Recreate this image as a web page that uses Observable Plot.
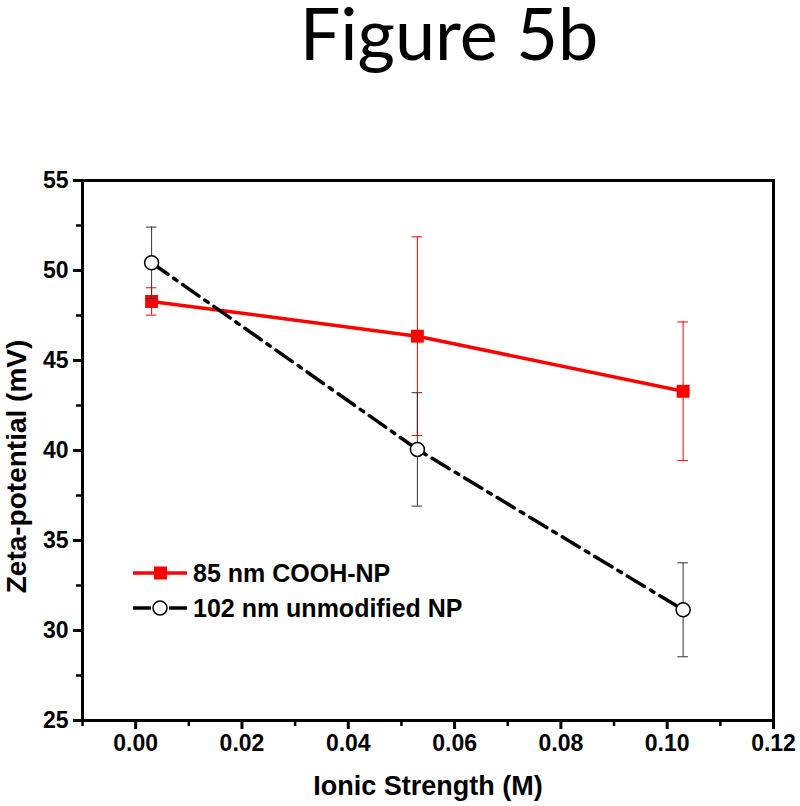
<!DOCTYPE html>
<html>
<head>
<meta charset="utf-8">
<script src="https://cdn.jsdelivr.net/npm/d3@7"></script>
<script src="https://cdn.jsdelivr.net/npm/@observablehq/plot@0.6"></script>
<style>
  html, body { margin: 0; padding: 0; background: #fff; }
  #wrap { position: relative; width: 800px; height: 806px; overflow: hidden; }
  #title { position: absolute; left: 449px; top: 0px; transform: translateX(-50%);
    font-family: Lato, "Open Sans", sans-serif; font-size: 72px; line-height: 64px; white-space: nowrap; color: #000; }
  #chart { position: absolute; left: 0; top: 100px; }
  .leg { position: absolute; left: 133px; display: flex; align-items: center; height: 30px;
    font-family: "Liberation Sans", Arial, sans-serif; font-weight: bold; font-size: 25px; color: #000; white-space: nowrap; }
  .leg svg { margin-right: 6px; }
  #chart g[aria-label$="tick label"] text { font-size: 23px; font-weight: bold; font-family: "Liberation Sans", Arial, sans-serif; }
</style>
</head>
<body>
<div id="wrap">
  <div id="title">Figure 5b</div>
  <div id="chart"></div>
  <div class="leg" style="top:558px">
    <svg width="54" height="20"><line x1="0" y1="10" x2="54" y2="10" stroke="#ff0000" stroke-width="3.5"/><rect x="21" y="3.5" width="13" height="13" fill="#ff0000"/></svg>
    <span>85 nm COOH-NP</span>
  </div>
  <div class="leg" style="top:593px">
    <svg width="54" height="20"><line x1="0" y1="10" x2="18" y2="10" stroke="#000" stroke-width="3.5"/><line x1="36" y1="10" x2="54" y2="10" stroke="#000" stroke-width="3.5"/><circle cx="27" cy="10" r="7" fill="#fff" stroke="#000" stroke-width="1.5"/></svg>
    <span>102 nm unmodified NP</span>
  </div>
</div>
<script>
// Data
const ionicStrength = [0.003, 0.053, 0.103];
const coohZeta = [48.28, 46.35, 43.29];
const coohErr = [0.76, 5.52, 3.85];
const unmodZeta = [50.43, 40.06, 31.15];
const unmodErr = [1.98, 3.15, 2.61];
const seriesNames = ["85 nm COOH-NP", "102 nm unmodified NP"];
const xTicks = [0.00, 0.02, 0.04, 0.06, 0.08, 0.10, 0.12];
const xMinorTicks = [-0.01, 0.01, 0.03, 0.05, 0.07, 0.09, 0.11];
const yTicks = [25, 30, 35, 40, 45, 50, 55];
const yMinorTicks = [27.5, 32.5, 37.5, 42.5, 47.5, 52.5];
const xLabel = "Ionic Strength (M)";
const yLabel = "Zeta-potential (mV)";

const cooh = ionicStrength.map((x, i) => ({x, y: coohZeta[i], lo: coohZeta[i] - coohErr[i], hi: coohZeta[i] + coohErr[i]}));
const unmod = ionicStrength.map((x, i) => ({x, y: unmodZeta[i], lo: unmodZeta[i] - unmodErr[i], hi: unmodZeta[i] + unmodErr[i]}));
const cap = 0.001;
const fam = "'Liberation Sans', Arial, sans-serif";

const chart = Plot.plot({
  width: 800,
  height: 706,
  marginLeft: 82,
  marginRight: 27,
  marginTop: 80,
  marginBottom: 86,
  style: {background: "#fff", color: "#000", overflow: "visible", fontFamily: fam, fontWeight: "bold", fontSize: "23px"},
  x: {domain: [-0.01, 0.12]},
  y: {domain: [25, 55]},
  marks: [
    // red series
    Plot.ruleX(cooh, {x: "x", y1: "lo", y2: "hi", stroke: "#ff0000", strokeWidth: 1}),
    Plot.ruleY(cooh, {y: "hi", x1: d => d.x - cap, x2: d => d.x + cap, stroke: "#ff0000", strokeWidth: 1}),
    Plot.ruleY(cooh, {y: "lo", x1: d => d.x - cap, x2: d => d.x + cap, stroke: "#ff0000", strokeWidth: 1}),
    Plot.line(cooh, {x: "x", y: "y", stroke: "#ff0000", strokeWidth: 3.5}),
    Plot.dot(cooh, {x: "x", y: "y", symbol: "square", r: 7.3, fill: "#ff0000", stroke: "none"}),
    // black series
    Plot.ruleX(unmod, {x: "x", y1: "lo", y2: "hi", stroke: "#333", strokeWidth: 1}),
    Plot.ruleY(unmod, {y: "hi", x1: d => d.x - cap, x2: d => d.x + cap, stroke: "#333", strokeWidth: 1}),
    Plot.ruleY(unmod, {y: "lo", x1: d => d.x - cap, x2: d => d.x + cap, stroke: "#333", strokeWidth: 1}),
    Plot.line(unmod, {x: "x", y: "y", stroke: "#000", strokeWidth: 3.5, strokeDasharray: "20,7,4,7"}),
    Plot.dot(unmod, {x: "x", y: "y", r: 7, fill: "#fff", stroke: "#000", strokeWidth: 1.5}),
    // axes
    Plot.axisX({ticks: xTicks, tickFormat: d3.format(".2f"), tickSize: 9, tickPadding: 5, strokeWidth: 3, label: null, fontSize: 23}),
    Plot.axisX({ticks: xMinorTicks, tickFormat: null, text: null, tickSize: 6, strokeWidth: 2.5, label: null}),
    Plot.axisY({ticks: yTicks, tickFormat: d3.format("d"), tickSize: 9, tickPadding: 5, strokeWidth: 3, label: null, fontSize: 23}),
    Plot.axisY({ticks: yMinorTicks, tickFormat: null, text: null, tickSize: 6, strokeWidth: 2.5, label: null}),
    Plot.frame({stroke: "#000", strokeWidth: 3}),
    Plot.text([xLabel], {frameAnchor: "bottom", dy: 66, lineAnchor: "middle", textAnchor: "middle", fontFamily: fam, fontWeight: "bold", fontSize: 27, fill: "#000"}),
    Plot.text([yLabel], {frameAnchor: "left", dx: -65, dy: 16, rotate: -90, lineAnchor: "middle", textAnchor: "middle", fontFamily: fam, fontWeight: "bold", fontSize: 28, fill: "#000"})
  ]
});
d3.select(chart).selectAll('g[aria-label$="tick label"]')
  .attr("font-size", 23).attr("font-weight", "bold").attr("font-family", fam);
document.getElementById("chart").appendChild(chart);
</script>
</body>
</html>
